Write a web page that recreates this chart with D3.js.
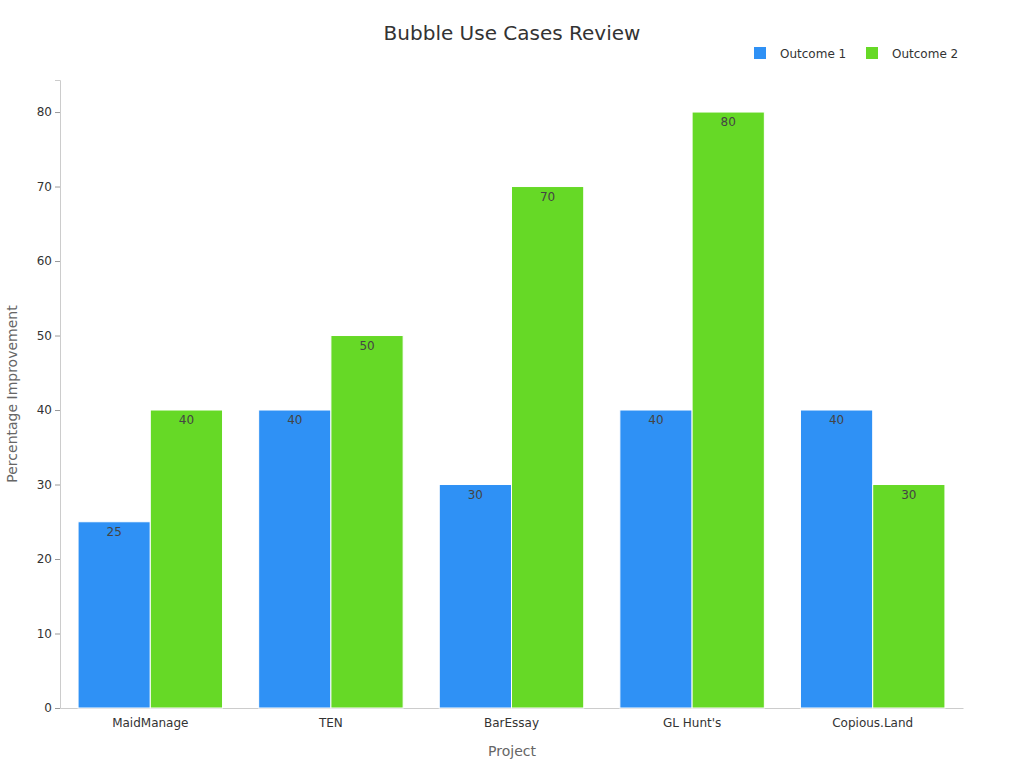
<!DOCTYPE html>
<html>
<head>
<meta charset="utf-8">
<script src="https://cdn.jsdelivr.net/npm/d3@7"></script>
<style>
  body { margin: 0; background: #fff; font-family: "DejaVu Sans", sans-serif; }
</style>
</head>
<body>
<div id="chart"></div>
<script>
const projects = ["MaidManage", "TEN", "BarEssay", "GL Hunt's", "Copious.Land"];
const outcome1 = [25, 40, 30, 40, 40];
const outcome2 = [40, 50, 70, 80, 30];
const seriesNames = ["Outcome 1", "Outcome 2"];
const colors = ["#2f91f5", "#66d926"];
const yTicks = [0, 10, 20, 30, 40, 50, 60, 70, 80];

const width = 1024, height = 768;
const margin = { top: 80, right: 61, bottom: 60, left: 60 };

const svg = d3.select("#chart").append("svg")
  .attr("width", width).attr("height", height);

const x = d3.scaleBand().domain(projects)
  .range([margin.left, width - margin.right]).paddingInner(0.2).paddingOuter(0.1);
const x1 = d3.scaleBand().domain(seriesNames).range([0, x.bandwidth()]);
const y = d3.scaleLinear().domain([0, 84.3]).range([height - margin.bottom, margin.top]);

// axes
const yAxis = svg.append("g")
  .attr("transform", `translate(${margin.left},0)`)
  .call(d3.axisLeft(y).tickValues(yTicks).tickSize(5).tickPadding(3));
yAxis.select(".domain").attr("stroke", "#ccc");
yAxis.selectAll(".tick line").attr("stroke", "#999");
yAxis.selectAll("text").attr("font-size", 12).attr("fill", "#333").attr("font-family", "DejaVu Sans");

const xAxis = svg.append("g")
  .attr("transform", `translate(0,${height - margin.bottom})`)
  .call(d3.axisBottom(x).tickSize(0).tickPadding(10));
xAxis.select(".domain").attr("stroke", "#ccc");
xAxis.selectAll("text").attr("font-size", 12).attr("fill", "#333").attr("font-family", "DejaVu Sans");

// bars
const rows = projects.map((p, i) => ({ project: p, values: [outcome1[i], outcome2[i]] }));
const groups = svg.append("g").selectAll("g").data(rows).join("g")
  .attr("transform", d => `translate(${x(d.project)},0)`);

groups.selectAll("rect")
  .data(d => d.values.map((v, k) => ({ key: seriesNames[k], v, k })))
  .join("rect")
  .attr("x", d => x1(d.key))
  .attr("width", x1.bandwidth())
  .attr("y", d => y(d.v))
  .attr("height", d => y(0) - y(d.v))
  .attr("fill", d => colors[d.k])
  .attr("stroke", "#fff").attr("stroke-width", 1);

groups.selectAll("text.val")
  .data(d => d.values.map((v, k) => ({ key: seriesNames[k], v, k })))
  .join("text")
  .attr("class", "val")
  .attr("x", d => x1(d.key) + x1.bandwidth() / 2)
  .attr("y", d => y(d.v) + 14)
  .attr("text-anchor", "middle")
  .attr("font-size", 12).attr("fill", "#444")
  .text(d => d.v);

// titles
svg.append("text").attr("x", 512).attr("y", 40).attr("text-anchor", "middle")
  .attr("font-size", 20).attr("fill", "#333").text("Bubble Use Cases Review");
svg.append("text").attr("x", 512).attr("y", 756).attr("text-anchor", "middle")
  .attr("font-size", 14).attr("fill", "#666").text("Project");
svg.append("text").attr("transform", "translate(17,394) rotate(-90)")
  .attr("text-anchor", "middle").attr("font-size", 14).attr("fill", "#666")
  .text("Percentage Improvement");

// legend
const legend = svg.append("g").selectAll("g").data(seriesNames).join("g")
  .attr("transform", (d, i) => `translate(${754 + i * 112},47)`);
legend.append("rect").attr("width", 12).attr("height", 12).attr("fill", (d, i) => colors[i]);
legend.append("text").attr("x", 26).attr("y", 11).attr("font-size", 12).attr("fill", "#333").text(d => d);
</script>
</body>
</html>
